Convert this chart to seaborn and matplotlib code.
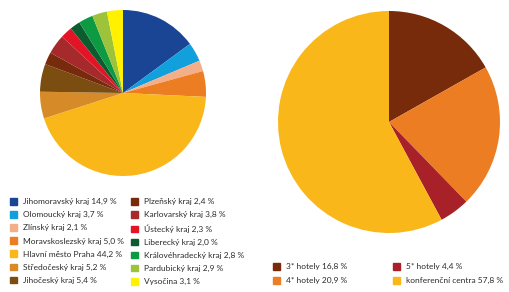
import matplotlib
matplotlib.use("Agg")
import matplotlib.pyplot as plt
import seaborn as sns
from matplotlib.patches import Patch

# Kraje (levý graf)
kraje = ["Jihomoravský kraj", "Olomoucký kraj", "Zlínský kraj", "Moravskoslezský kraj",
         "Hlavní město Praha", "Středočeský kraj", "Jihočeský kraj", "Plzeňský kraj",
         "Karlovarský kraj", "Ústecký kraj", "Liberecký kraj", "Královéhradecký kraj",
         "Pardubický kraj", "Vysočina"]
kraje_podil = [14.9, 3.7, 2.1, 5.0, 44.2, 5.2, 5.4, 2.4, 3.8, 2.3, 2.0, 2.8, 2.9, 3.1]
kraje_barvy = ["#1a4595", "#12a0dc", "#f4ae88", "#ed7d22", "#f9b719", "#d68a28",
               "#7b4d10", "#772b0c", "#a62a2b", "#e31426", "#0c5c30", "#0e9a42",
               "#9dc33b", "#fff100"]

# Typ zařízení (pravý graf)
typy = ["3* hotely", "4* hotely", "5* hotely", "konferenční centra"]
typy_podil = [16.8, 20.9, 4.4, 57.8]
typy_barvy = ["#772b0a", "#ed7d22", "#a82128", "#f9b719"]

sns.set_style("white")
plt.rcParams["font.family"] = ["Lato", "DejaVu Sans"]

W, H = 510, 292
fig = plt.figure(figsize=(W / 100, H / 100), dpi=100)

def osa(cx, cy, r):
    return fig.add_axes([(cx - r) / W, 1 - (cy + r) / H, 2 * r / W, 2 * r / H])

def fmt(nazev, v):
    return f"{nazev} {v:.1f} %".replace(".", ",")

# levý koláč
ax1 = osa(123, 93, 83)
ax1.pie(kraje_podil, colors=kraje_barvy, startangle=90, counterclock=False,
        wedgeprops=dict(linewidth=0))
ax1.set_xlim(-1, 1)
ax1.set_ylim(-1, 1)
ax1.axis("off")

# pravý koláč
ax2 = osa(389, 122, 111)
ax2.pie(typy_podil, colors=typy_barvy, startangle=90, counterclock=False,
        wedgeprops=dict(linewidth=0))
ax2.set_xlim(-1, 1)
ax2.set_ylim(-1, 1)
ax2.axis("off")

leg_kw = dict(frameon=False, fontsize=6, handlelength=0.85, handleheight=0.85,
              handletextpad=0.7, borderpad=0, borderaxespad=0,
              labelcolor="#2b2b2b", loc="upper left")

def legenda(nazvy, hodnoty, barvy, x, y, mezera):
    h = [Patch(color=c, label=fmt(n, v)) for n, v, c in zip(nazvy, hodnoty, barvy)]
    fig.legend(handles=h, bbox_to_anchor=(x / W, 1 - y / H), labelspacing=mezera, **leg_kw)

# legendy po sloupcích
legenda(kraje[:7], kraje_podil[:7], kraje_barvy[:7], 10, 198, 0.7)
legenda(kraje[7:], kraje_podil[7:], kraje_barvy[7:], 131, 198, 0.7)
legenda(typy[:2], typy_podil[:2], typy_barvy[:2], 273, 263, 0.8)
legenda(typy[2:], typy_podil[2:], typy_barvy[2:], 393, 263, 0.8)

fig.savefig("out.png", dpi=100, facecolor="white")
